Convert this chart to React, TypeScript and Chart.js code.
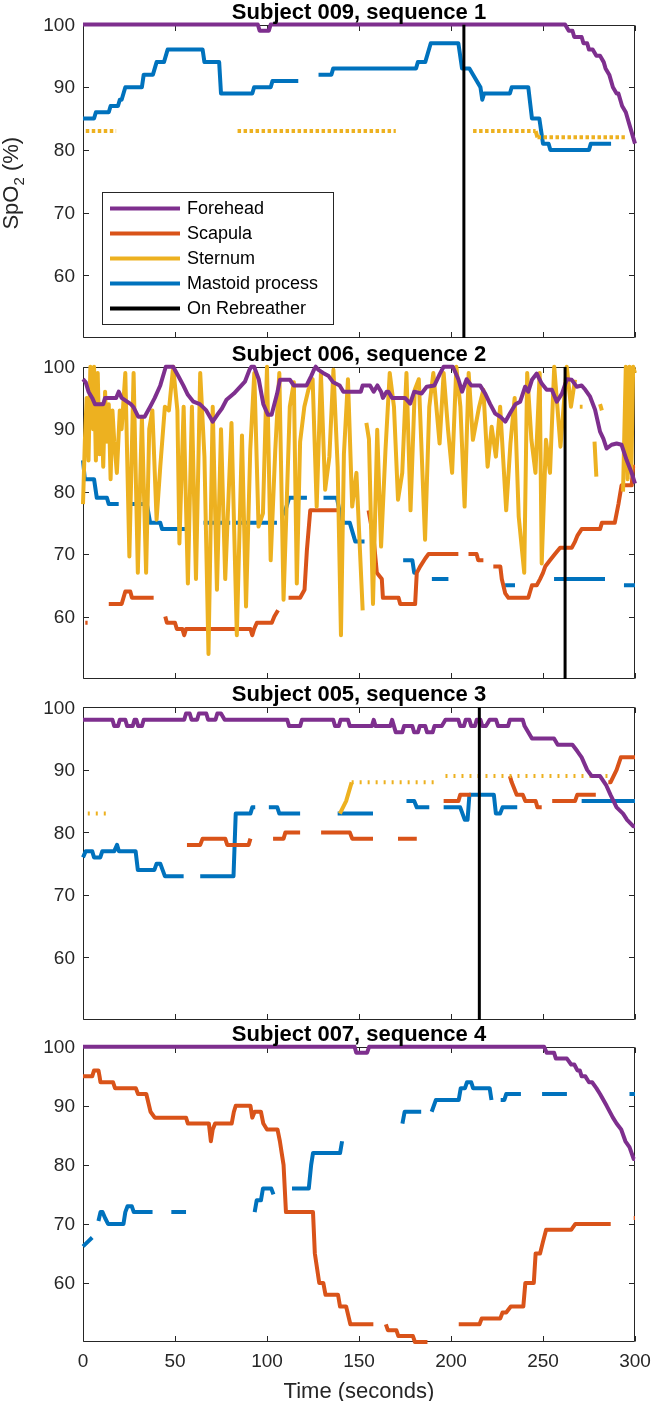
import React, { useEffect, useRef } from 'react';
import { Chart, registerables } from 'chart.js';
Chart.register(...registerables);

// ---------- data ----------
const panelTitles = ['Subject 009, sequence 1', 'Subject 006, sequence 2', 'Subject 005, sequence 3', 'Subject 007, sequence 4'];
const legendLabels = ['Forehead', 'Scapula', 'Sternum', 'Mastoid process', 'On Rebreather'];
const xTicks = [0, 50, 100, 150, 200, 250, 300];
const yTicks = [60, 70, 80, 90, 100];
const xMin = 0, xMax = 300, yMin = 50, yMax = 100;
const rebreatherTimes = [207, 262, 215.4, null];

type P = [number, number | null][];

// Panel 1
const p1Forehead: P = [[0,100],[95,100],[96,99],[101,99],[102,100],[262,100],[264,99],[266,99],[267,98],[271,98],[272,97],[274,97],[275,96],[277,96],[279,95],[281,95],[283,94],[284,93],[286,92],[287,91],[288,90],[290,89],[291,89],[293,87],[295,86],[297,84],[300,81]];
const p1Scapula: P = [];
const p1Sternum: P = [[1.5,83],[18,83],[19,null],[84,83],[170,83],[171,null],[212,83],[246,83],[247,82],[294.5,82]];
const p1Mastoid: P = [[0,85],[6,85],[7,86],[14,86],[15,87],[19,87],[20,88],[21,88],[22,89],[23,90],[32,90],[33,92],[38,92],[40,94],[44,94],[45,95],[46,96],[65,96],[66,94],[74,94],[75,89],[92,89],[93,90],[102,90],[103,91],[117,91],[118,null],[128,92],[135,92],[136,93],[181,93],[182,94],[186,94],[189,97],[204,97],[206,93],[210,93],[212,92],[214,91],[216,90],[217,88],[218,89],[232,89],[233,90],[242,90],[244,85],[248,85],[250,81],[253,81],[254,80],[275,80],[276,81],[287,81]];

// Panel 2
const p2Forehead: P = [[0,98],[1.5,97.5],[3,96],[5,95],[6.5,94],[11,94],[12,95],[18,95],[19.4,96],[21,95],[24,94.4],[26,94],[27.5,93.5],[30,92],[33.5,92],[36.5,93.6],[39,95],[42,97],[44,99],[45,100],[49,100],[52,98.4],[54.5,97],[57,95.5],[60,94.4],[63.5,94],[67,93],[70.5,91.2],[73,92.3],[75.5,93.3],[78,94.7],[82,95.7],[84.5,96.5],[88,97.6],[90.5,99.5],[91.5,100],[93,100],[95.5,98],[98,94],[100.5,92.3],[102.5,92.3],[105.5,95.7],[107,97.9],[112.5,97.9],[114.5,97],[121.5,97],[124,98.5],[125.5,99.5],[126.5,100],[128,99.5],[130.5,99],[133.5,98.5],[136,97.5],[139.5,97],[141.5,96],[151,96],[152,97],[156,97],[158,96],[160,97],[162,96],[163,95],[165,96],[166,96],[168,95],[175,95],[177.8,94.1],[180,96],[184,95.7],[186.8,96.8],[191,97],[194,98.9],[196,100],[201,100],[204,98],[206,96],[208.5,98],[211,97],[215.8,97],[218.6,95.7],[221.3,94],[224,92.5],[226.8,92],[229.5,91.2],[232,92.5],[235,94],[237.6,94.4],[240.3,96.8],[242,96],[244,97.9],[246.6,98.9],[249.3,97.3],[252,96.3],[254.8,96.3],[257.5,94.4],[260.3,95.7],[263,98],[265.6,97.9],[268.3,96.8],[271,97],[273,96.3],[275.6,95.2],[278.3,93.1],[281,89.6],[282.8,88.5],[284.6,86.9],[287.3,87.5],[290,87.7],[292.7,87.5],[295.4,85.1],[298.2,83],[300,81.3]];
const p2Scapula: P = [[1.25,59],[2.5,59],[3,null],[14,62],[21,62],[22,63],[23,64],[25.7,64],[26.6,63],[38.4,63],[39,null],[44.7,60],[45.6,59],[50,59],[51,58],[54,58],[55,57],[56,58],[91,58],[92,57],[93,58],[94.5,59],[102.6,59],[104,60],[106,61],[107,null],[111.7,63],[118,63],[120.4,64.3],[121.7,70.7],[123.5,77],[138.9,77],[139,null],[155.2,77],[158,72.3],[159.7,67],[162.4,66],[163,63],[171.5,63],[172.4,62],[180.5,62],[181.4,67],[183.2,68],[186,69.3],[187.8,70],[204,70],[205,null],[209.5,70],[213.9,70],[214.8,69],[217.6,69],[218,null],[223,68],[226.8,68],[227.6,66],[229.5,63.7],[231.2,63],[242,63],[243,64],[244,65],[246.6,65],[248.4,66],[250,67],[251.2,68],[253.8,69],[256.5,70],[259.3,71],[265.6,71],[267.4,72],[268.8,73],[271,74],[281,74],[282,75],[289,75],[291,78],[292.7,81],[298.2,81],[299,84],[300,84]];
const p2Sternum: P = [[0,78],[1,88],[2,95],[3,85],[4,100],[5.5,90],[6,100],[7,85],[8,99],[9,86],[10,94],[11,84],[12,96],[13,88],[14,94],[15,82],[16,93],[17,88],[18.4,83],[20,93],[21,90],[23,99],[25.2,69.6],[27.5,99],[29.8,67],[32,92],[34.3,67],[36,90],[37.7,93],[40,75.5],[42,84],[44.5,93.6],[46.7,93],[49,100],[51.3,93],[52.4,71.7],[54.7,93.6],[57,65.3],[59.2,93.6],[61.4,66],[63.7,99],[66,85.6],[68.2,54],[70.5,93.6],[72.8,64.3],[75,90],[77.3,66],[80.7,91],[83.6,57],[86.4,89],[88.6,61.6],[90.9,86.7],[93.1,99],[95.4,74.4],[97.8,76.5],[100,100],[102,69],[104.5,86.7],[106.7,99],[109,62.7],[112.4,93.6],[114.6,97.5],[116.2,65.3],[118,88],[120.3,93.6],[122.5,96.3],[124.8,98],[127,77.6],[129.3,99],[131.6,80.3],[133.9,85.6],[136.1,99.5],[138.4,84],[140.2,57],[141.8,86],[144,98],[146.3,77.6],[148.6,83],[152,61],[153,null],[154,91],[155.4,88.4],[157.6,62],[159.9,89.9],[162,71.2],[164.4,86.7],[166.7,99],[169,93.6],[171.2,78.7],[173.5,83],[175.8,99],[178,77],[180.3,96.3],[182.5,98],[185.9,72.3],[188.2,93.6],[190.4,99],[193.8,87.7],[196,99],[198.4,89.9],[200.6,83],[202.9,100],[205.1,93.6],[207.4,77.6],[209.6,99],[211.9,88.3],[215.3,93.6],[217.6,96.3],[219.9,84],[222.1,90.4],[224.4,85.6],[226.7,93.6],[230,77],[232.3,87.7],[234.6,95],[236.8,76],[239.8,67],[241.4,99],[243.7,88.3],[245.9,83],[248.2,99],[249.3,68.5],[251.6,88.3],[253.8,83],[256.1,100],[259.5,87.2],[262.9,100],[265.2,93.6],[267.4,97.9],[268,null],[270,93.6],[271.5,93.6],[272,null],[278,88],[279,82.4],[280,null],[281,94],[282,93],[283,null],[293.5,80],[295,100],[296,82],[297,100],[298,83],[299,100],[300,99]];
const p2Mastoid: P = [[0,85],[1,82],[6,82],[7.5,79],[13,79],[14,78],[19.4,78],[20,null],[25.7,78],[34.7,78],[36.5,75],[42,75],[43,74],[58,74],[59,null],[65.5,75],[80,75],[81,null],[83,75],[105.4,75],[106,null],[108,76],[110,77],[112,79],[121.7,79],[122,null],[130.7,79],[138,79],[140,76],[141.6,75],[145,75],[146,74],[148,72],[153,72],[154,null],[174,69],[179,69],[180,67],[181,67],[182,null],[189.6,66],[198.6,66],[199,null],[229.4,65],[234.8,65],[235,null],[256,66],[283.7,66],[284,null],[294,65],[300,65]];

// Panel 3
const p3Forehead: P = [[0,98],[16,98],[17,97],[19,97],[20,98],[23,98],[24,97],[27,97],[28,98],[29,98],[30,97],[32,97],[33,98],[55,98],[56,99],[58,99],[59,98],[62,98],[63,99],[67,99],[68,98],[72,98],[73,99],[75,99],[77,98],[111,98],[112,97],[118,97],[119,98],[136,98],[137,97],[139,97],[140,98],[144,98],[145,97],[157,97],[158,98],[159,97],[167,97],[168,98],[169,97],[170,96],[173.5,96],[174.5,97],[179,97],[180,96],[182,96],[183,97],[186,97],[187,96],[190,96],[191,97],[195,97],[197,98],[204,98],[205,97],[207,97],[208,98],[210,98],[211,97],[213,97],[214,98],[216,98],[217,97],[219,97],[221,98],[224.5,98],[225.6,97],[231,97],[232,98],[239,98],[240,97],[242,96],[244,95],[256,95],[258,94],[266,94],[268.6,93],[271,92],[274,90],[276.5,89],[281,89],[284.4,87.5],[286.7,86],[290,84],[293.5,83],[295.7,82],[299,81],[300,81]];
const p3Scapula: P = [[56.5,78],[63.7,78],[65,79],[77.3,79],[78.4,78],[90,78],[91,79],[91.5,null],[103.3,79],[109,79],[110,80],[118,80],[118.5,null],[129.4,80],[145,80],[146.3,79],[157.6,79],[158,null],[171.2,79],[181.4,79],[182,null],[196,85],[204,85],[205,86],[210.8,86],[211,null],[232,89],[233,88],[235.7,86],[239,86],[240.4,85],[246,85],[247,84],[249.3,84],[250,null],[255,85],[267.4,85],[268.6,86],[278.7,86],[279,null],[285.5,88],[286.7,88],[290,90],[292.3,92],[300,92]];
const p3Sternum: P = [[2.6,83],[14,83],[15,null],[139.6,83],[143,85],[146,88],[192.7,88],[193,null],[197,89],[287,89]];
const p3Mastoid: P = [[0,76],[1.5,77],[5,77],[6,76],[9.4,76],[10.5,77],[17,77],[18.5,78],[19.5,77],[28.6,77],[29.8,74],[38.8,74],[40,75],[42,75],[44.5,73],[54.7,73],[55,null],[63.7,73],[81.8,73],[83,83],[91,83],[92,84],[93.6,84],[94,null],[101,84],[105.6,84],[106.7,83],[118,83],[118.5,null],[138.4,83],[157.6,83],[158,null],[175.8,85],[180,85],[181.4,84],[188.2,84],[189,null],[196,84],[205,84],[207.5,82],[209,82],[210,86],[223.3,86],[224.4,83],[226.7,83],[228,84],[236,84],[237,null],[271,85],[300,85]];

// Panel 4
const p4Forehead: P = [[0,100],[147.6,100],[148.5,99],[154.4,99],[155.5,100],[250.6,100],[252,99],[256,99],[257,98],[263,98],[265.3,97],[267,97],[268.7,96],[270,96],[271,95],[273,95],[275,94],[276.7,94],[279,93],[281,92],[284.6,90],[288,88],[290,87],[292.5,86],[294.8,84],[297,83],[299.3,81],[300,81]];
const p4Scapula: P = [[0,95],[5,95],[6,96],[8.4,96],[9,95],[9.5,94],[16.3,94],[17.4,93],[28.7,93],[29.9,92],[34.4,92],[36.7,89],[39,88],[56,88],[57,87],[68.4,87],[69.5,84],[70.5,86],[71.8,87],[80.8,87],[82,89],[83,90],[91,90],[92,88],[93.3,89],[96.7,89],[98,87],[100,86],[105.7,86],[107,84],[108,82],[109,80],[110.3,72],[125,72],[126,65],[128.4,60],[130.6,60],[131.8,58],[138.6,58],[139.7,56],[143,56],[145.3,53],[157.8,53],[158,null],[164.6,53],[165.7,52],[170.3,52],[171.4,51],[179.3,51],[180.4,50],[187.2,50],[188,null],[204.2,53],[215.5,53],[216.7,54],[226.8,54],[228,55],[230,55],[232.5,56],[239.3,56],[240.4,60],[245,60],[246,65],[248.4,65],[250,67],[251.7,69],[265.3,69],[267.6,70],[286.8,70],[287,null],[299.3,71],[300,71]];
const p4Sternum: P = [];
const p4Mastoid: P = [[0,66.2],[2.7,67],[5,67.7],[5.5,null],[8.4,70.5],[9.5,72],[10.6,72],[12,71],[13.6,70],[22,70],[23,72],[24.2,73],[26.5,73],[27.6,72],[37.8,72],[38,null],[48,72],[56,72],[56.5,null],[93.3,72],[94.4,74],[96.7,74],[97.8,76],[102.3,76],[103.5,75],[104,null],[113.6,76],[122.7,76],[124,80],[125,82],[139.7,82],[140.8,84],[141,null],[173.6,87],[174.8,89],[183.8,89],[184,null],[189.5,89],[191.8,91],[204.2,91],[205.3,93],[207.6,93],[208.7,94],[211,94],[212,93],[221,93],[222,91],[222.5,null],[227,91],[229,91],[230,92],[238,92],[238.5,null],[249.5,92],[263,92],[263.5,null],[297,92],[300,92]];

const foreheadSeries = [p1Forehead, p2Forehead, p3Forehead, p4Forehead];
const scapulaSeries = [p1Scapula, p2Scapula, p3Scapula, p4Scapula];
const sternumSeries = [p1Sternum, p2Sternum, p3Sternum, p4Sternum];
const mastoidSeries = [p1Mastoid, p2Mastoid, p3Mastoid, p4Mastoid];

// ---------- styles ----------
const C_FORE = '#7E2F8E';
const C_SCAP = '#D95319';
const C_STER = '#EDB120';
const C_MAST = '#0072BD';
const C_REB = '#000000';
const legendColors = [C_FORE, C_SCAP, C_STER, C_MAST, C_REB];
const AXIS = '#262626';
const FONT = '"Liberation Sans", Arial, Helvetica, sans-serif';
const sternumDash = [[3.5, 2.5], [], [2, 6], []];

// layout of the four panels: canvas top, canvas height, padding top, padding bottom
const layoutPanels = [
  { top: 0, h: 342, pt: 24.5, pb: 4 },
  { top: 340, h: 343, pt: 26.7, pb: 4 },
  { top: 681, h: 343, pt: 26.3, pb: 4 },
  { top: 1022, h: 379, pt: 24.8, pb: 59 },
];

const toPts = (pairs: P) => pairs.map(([x, y]) => ({ x, y }));

function makePlugin(i: number) {
  return {
    id: 'matlabFrame' + i,
    beforeDatasetsDraw(chart: any) {
      const { ctx, chartArea: a, scales } = chart;
      const xs = scales.x, ys = scales.y;
      const L = Math.round(a.left) + 0.5, R = Math.round(a.right) - 0.5;
      const T = Math.round(a.top) + 0.5, B = Math.round(a.bottom) - 0.5;
      const TL = 5.5;
      ctx.save();
      ctx.strokeStyle = AXIS;
      ctx.lineWidth = 1;
      ctx.beginPath();
      ctx.rect(L, T, R - L, B - T);
      for (const v of xTicks) {
        const px = Math.round(xs.getPixelForValue(v)) + 0.5;
        ctx.moveTo(px, B); ctx.lineTo(px, B - TL);
        ctx.moveTo(px, T); ctx.lineTo(px, T + TL);
      }
      for (const v of yTicks) {
        const py = Math.round(ys.getPixelForValue(v)) + 0.5;
        ctx.moveTo(L, py); ctx.lineTo(L + TL, py);
        ctx.moveTo(R, py); ctx.lineTo(R - TL, py);
      }
      ctx.stroke();
      ctx.restore();
    },
    afterDatasetsDraw(chart: any) {
      const { ctx, chartArea: a, scales } = chart;
      const xs = scales.x, ys = scales.y;
      const cx = (a.left + a.right) / 2;
      ctx.save();
      // title
      ctx.fillStyle = '#000';
      ctx.font = `bold 22px ${FONT}`;
      ctx.textAlign = 'center';
      ctx.textBaseline = 'alphabetic';
      ctx.fillText(panelTitles[i], cx, a.top - 6);
      // y tick labels
      ctx.fillStyle = AXIS;
      ctx.font = `19px ${FONT}`;
      ctx.textAlign = 'right';
      ctx.textBaseline = 'middle';
      for (const v of yTicks) {
        ctx.fillText(String(v), a.left - 8, ys.getPixelForValue(v) + 1);
      }
      if (i === 3) {
        ctx.textAlign = 'center';
        for (const v of xTicks) {
          ctx.fillText(String(v), xs.getPixelForValue(v), a.bottom + 20);
        }
        ctx.font = `22px ${FONT}`;
        ctx.textBaseline = 'alphabetic';
        ctx.fillText('Time (seconds)', cx, a.bottom + 55.5);
      }
      if (i === 0) {
        // y axis label with subscript
        const cy = (a.top + a.bottom) / 2 + 2;
        ctx.translate(17.5, cy);
        ctx.rotate(-Math.PI / 2);
        ctx.textAlign = 'left';
        ctx.textBaseline = 'alphabetic';
        const big = `22px ${FONT}`, small = `15px ${FONT}`;
        ctx.font = big; const w1 = ctx.measureText('SpO').width; const w3 = ctx.measureText(' (%)').width;
        ctx.font = small; const w2 = ctx.measureText('2').width;
        const x0 = -(w1 + w2 + w3) / 2;
        ctx.font = big; ctx.fillText('SpO', x0, 0);
        ctx.font = small; ctx.fillText('2', x0 + w1, 6);
        ctx.font = big; ctx.fillText(' (%)', x0 + w1 + w2, 0);
        ctx.setTransform(1, 0, 0, 1, 0, 0);
        // legend
        const bx = 102.5, by = 192.5, bw = 231, bh = 132;
        ctx.fillStyle = '#fff';
        ctx.fillRect(bx, by, bw, bh);
        ctx.strokeStyle = AXIS;
        ctx.lineWidth = 1;
        ctx.strokeRect(bx, by, bw, bh);
        ctx.font = `18px ${FONT}`;
        ctx.textAlign = 'left';
        ctx.textBaseline = 'middle';
        legendLabels.forEach((lab, k) => {
          const ry = 208.5 + k * 25;
          ctx.strokeStyle = legendColors[k];
          ctx.lineWidth = 4;
          ctx.beginPath();
          ctx.moveTo(110, ry); ctx.lineTo(180, ry);
          ctx.stroke();
          ctx.fillStyle = '#000';
          ctx.fillText(lab, 187, ry + 1);
        });
      }
      ctx.restore();
    },
  };
}

function makeConfig(i: number): any {
  const lay = layoutPanels[i];
  const dash = sternumDash[i];
  const datasets: any[] = [];
  const rt = rebreatherTimes[i];
  if (rt !== null) {
    datasets.push({ label: legendLabels[4], data: [{ x: rt, y: yMin }, { x: rt, y: yMax }], borderColor: C_REB, borderWidth: 3, clip: 0 });
  }
  datasets.push({ label: legendLabels[0], data: toPts(foreheadSeries[i]), borderColor: C_FORE, borderWidth: 4, clip: 4 });
  datasets.push({
    label: legendLabels[2], data: toPts(sternumSeries[i]), borderColor: C_STER, borderWidth: 4, clip: 4,
    segment: dash.length ? { borderDash: (c: any) => (c.p0.parsed.y === c.p1.parsed.y ? dash : undefined) } : undefined,
  });
  datasets.push({ label: legendLabels[1], data: toPts(scapulaSeries[i]), borderColor: C_SCAP, borderWidth: 4, clip: 4 });
  datasets.push({ label: legendLabels[3], data: toPts(mastoidSeries[i]), borderColor: C_MAST, borderWidth: 4, clip: 4 });
  return {
    type: 'line',
    data: { datasets },
    options: {
      animation: false,
      responsive: false,
      maintainAspectRatio: false,
      events: [],
      spanGaps: false,
      layout: { padding: { left: 83, right: 18, top: lay.pt, bottom: lay.pb } },
      elements: {
        point: { radius: 0, hoverRadius: 0 },
        line: { tension: 0, borderCapStyle: 'butt', borderJoinStyle: 'round', fill: false },
      },
      plugins: { legend: { display: false }, tooltip: { enabled: false }, title: { display: false } },
      scales: {
        x: { type: 'linear', min: xMin, max: xMax, display: false },
        y: { type: 'linear', min: yMin, max: yMax, display: false },
      },
    },
    plugins: [makePlugin(i)],
  };
}

function Panel({ i }: { i: number }) {
  const ref = useRef<HTMLCanvasElement | null>(null);
  const lay = layoutPanels[i];
  useEffect(() => {
    if (!ref.current) return;
    const chart = new Chart(ref.current, makeConfig(i));
    return () => chart.destroy();
  }, [i]);
  return (
    <canvas
      ref={ref}
      width={653}
      height={lay.h}
      style={{ position: 'absolute', left: 0, top: lay.top, width: 653, height: lay.h, display: 'block' }}
    />
  );
}

export default function App() {
  return (
    <div style={{ position: 'absolute', left: 0, top: 0, width: 653, height: 1401, background: '#fff' }}>
      {[0, 1, 2, 3].map((i) => <Panel key={i} i={i} />)}
    </div>
  );
}
